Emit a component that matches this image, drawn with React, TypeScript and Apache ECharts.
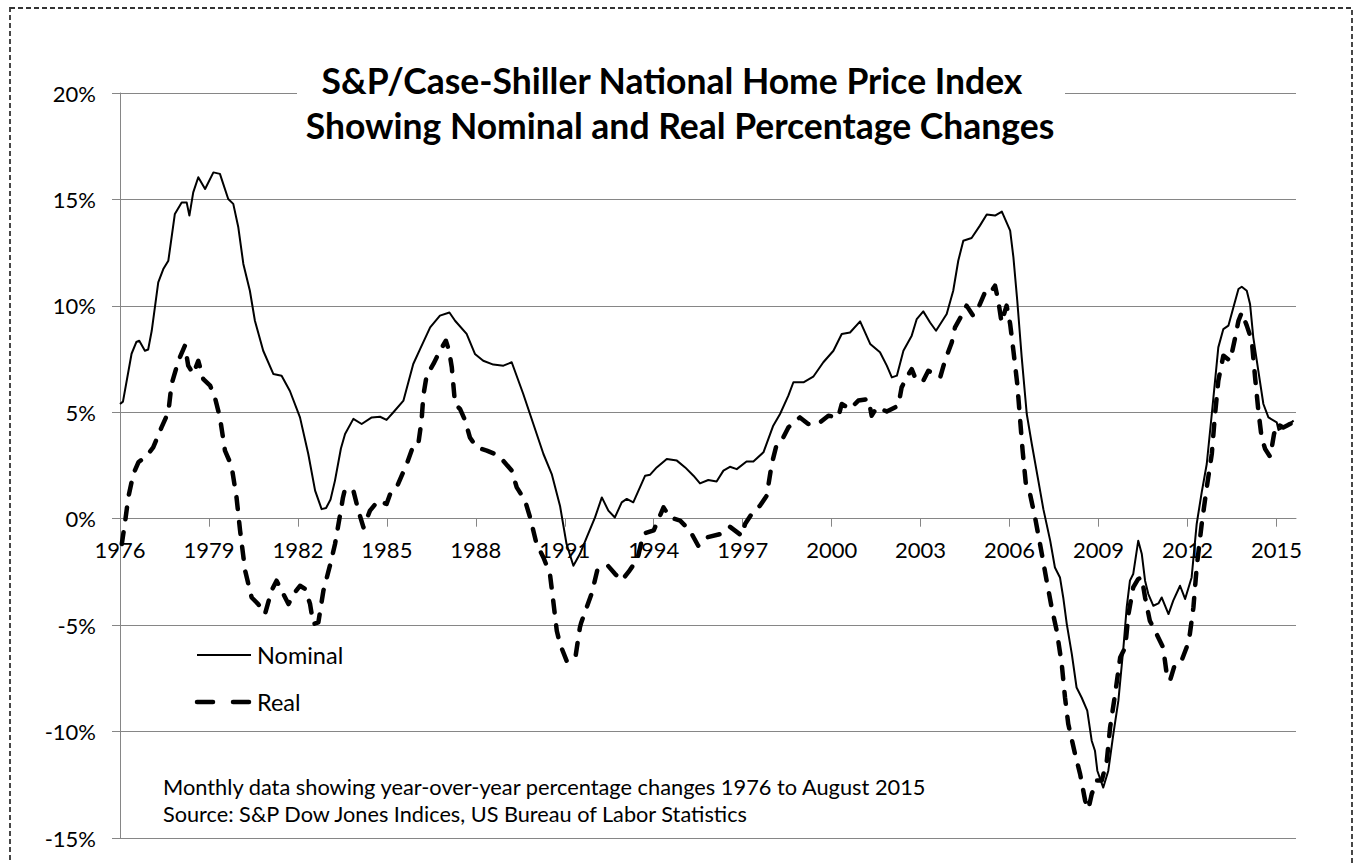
import React, { useEffect, useRef } from "react";
import * as echarts from "echarts";

// Tick labels (years) of the horizontal axis
const YEAR_TICKS = [1976, 1979, 1982, 1985, 1988, 1991, 1994, 1997, 2000, 2003, 2006, 2009, 2012, 2015];

// Year-over-year % change: [decimal year, percent]
const NOMINAL: [number, number][] = [
  [1976.0, 5.39], [1976.1, 5.5], [1976.39, 7.75], [1976.55, 8.3], [1976.65, 8.36], [1976.84, 7.89],
  [1976.95, 7.95], [1977.07, 8.83], [1977.29, 11.1], [1977.46, 11.73], [1977.63, 12.12], [1977.85, 14.32],
  [1978.08, 14.86], [1978.25, 14.85], [1978.34, 14.24], [1978.47, 15.33], [1978.64, 16.04], [1978.87, 15.49],
  [1979.15, 16.27], [1979.37, 16.2], [1979.65, 15.02], [1979.82, 14.79], [1979.99, 13.69], [1980.16, 11.97],
  [1980.38, 10.71], [1980.55, 9.3], [1980.83, 7.89], [1981.17, 6.8], [1981.45, 6.72], [1981.73, 6.0],
  [1982.07, 4.76], [1982.35, 3.04], [1982.58, 1.32], [1982.8, 0.45], [1982.95, 0.5], [1983.1, 0.9],
  [1983.25, 1.79], [1983.45, 3.3], [1983.59, 3.98], [1983.87, 4.69], [1984.15, 4.45], [1984.49, 4.76],
  [1984.77, 4.79], [1984.99, 4.64], [1985.22, 5.0], [1985.56, 5.55], [1985.89, 7.27], [1986.12, 7.97],
  [1986.46, 8.99], [1986.79, 9.54], [1987.11, 9.69], [1987.3, 9.3], [1987.69, 8.68], [1987.97, 7.74],
  [1988.25, 7.42], [1988.59, 7.24], [1988.93, 7.19], [1989.21, 7.35], [1989.6, 5.86], [1989.94, 4.45],
  [1990.28, 3.04], [1990.56, 2.1], [1990.84, 0.6], [1991.06, -1.19], [1991.29, -2.21], [1991.51, -1.66],
  [1991.74, -0.88], [1992.02, 0.06], [1992.25, 1.0], [1992.47, 0.38], [1992.69, 0.06], [1992.92, 0.77],
  [1993.09, 0.93], [1993.31, 0.77], [1993.71, 2.02], [1993.88, 2.07], [1994.1, 2.41], [1994.44, 2.81],
  [1994.78, 2.73], [1995.06, 2.41], [1995.34, 2.02], [1995.56, 1.66], [1995.84, 1.82], [1996.12, 1.75],
  [1996.35, 2.26], [1996.57, 2.44], [1996.8, 2.33], [1997.13, 2.69], [1997.36, 2.69], [1997.7, 3.12],
  [1998.03, 4.37], [1998.26, 4.92], [1998.54, 5.78], [1998.71, 6.41], [1999.05, 6.41], [1999.38, 6.67],
  [1999.72, 7.35], [2000.06, 7.89], [2000.34, 8.68], [2000.62, 8.75], [2000.96, 9.27], [2001.3, 8.21],
  [2001.63, 7.82], [2001.86, 7.19], [2002.03, 6.64], [2002.2, 6.72], [2002.42, 7.89], [2002.7, 8.6],
  [2002.87, 9.38], [2003.09, 9.74], [2003.32, 9.22], [2003.52, 8.83], [2003.88, 9.62], [2004.1, 10.71],
  [2004.27, 12.12], [2004.44, 13.06], [2004.72, 13.19], [2005.0, 13.77], [2005.23, 14.29], [2005.51, 14.24],
  [2005.74, 14.43], [2006.02, 13.53], [2006.13, 12.28], [2006.26, 10.24], [2006.41, 7.58], [2006.58, 4.92],
  [2006.75, 3.51], [2006.97, 1.79], [2007.14, 0.45], [2007.37, -1.03], [2007.53, -2.29], [2007.7, -2.76],
  [2007.81, -3.7], [2007.93, -4.95], [2008.1, -6.36], [2008.26, -7.93], [2008.43, -8.4], [2008.62, -9.02],
  [2008.77, -10.43], [2008.88, -10.9], [2008.96, -11.84], [2009.16, -12.63], [2009.33, -11.84], [2009.5, -10.12],
  [2009.67, -8.55], [2009.84, -6.05], [2009.95, -4.17], [2010.06, -2.91], [2010.17, -2.6], [2010.34, -1.03],
  [2010.46, -1.66], [2010.57, -2.91], [2010.68, -3.54], [2010.85, -4.09], [2011.02, -3.98], [2011.13, -3.7],
  [2011.36, -4.48], [2011.52, -3.85], [2011.75, -3.15], [2011.92, -3.77], [2012.14, -2.76], [2012.31, -0.25],
  [2012.48, 1.24], [2012.65, 2.57], [2012.82, 4.92], [2012.93, 6.48], [2013.04, 8.05], [2013.21, 8.91],
  [2013.38, 9.07], [2013.55, 9.93], [2013.72, 10.79], [2013.83, 10.9], [2014.0, 10.71], [2014.11, 10.09],
  [2014.22, 8.52], [2014.39, 6.95], [2014.56, 5.39], [2014.73, 4.76], [2015.01, 4.53], [2015.07, 4.17],
  [2015.35, 4.37], [2015.58, 4.61],
];

const REAL: [number, number][] = [
  [1976.06, -1.19], [1976.17, -0.17], [1976.28, 1.0], [1976.45, 2.1], [1976.62, 2.65], [1976.9, 2.96],
  [1977.12, 3.35], [1977.4, 4.29], [1977.63, 5.0], [1977.74, 6.33], [1977.97, 7.42], [1978.19, 8.13],
  [1978.3, 7.19], [1978.47, 6.8], [1978.64, 7.42], [1978.81, 6.56], [1979.04, 6.25], [1979.2, 5.7],
  [1979.37, 4.76], [1979.54, 3.2], [1979.76, 2.49], [1979.93, 1.0], [1980.05, -0.56], [1980.22, -2.44],
  [1980.44, -3.7], [1980.66, -4.01], [1980.89, -4.48], [1981.11, -3.38], [1981.28, -2.91], [1981.45, -3.38],
  [1981.68, -4.01], [1981.9, -3.46], [1982.07, -3.15], [1982.24, -3.3], [1982.41, -4.01], [1982.52, -4.95],
  [1982.69, -4.87], [1982.86, -3.38], [1983.08, -2.2], [1983.25, -1.2], [1983.4, 0.0], [1983.52, 1.0],
  [1983.59, 1.4], [1983.87, 1.32], [1984.04, 0.38], [1984.21, -0.41], [1984.43, 0.38], [1984.71, 0.85],
  [1984.99, 0.69], [1985.11, 1.16], [1985.33, 1.47], [1985.67, 2.57], [1985.89, 3.43], [1986.06, 3.51],
  [1986.17, 4.61], [1986.23, 5.78], [1986.34, 6.72], [1986.57, 7.27], [1986.79, 7.89], [1986.99, 8.36],
  [1987.1, 7.89], [1987.19, 7.11], [1987.3, 5.39], [1987.47, 5.15], [1987.64, 4.61], [1987.8, 3.82],
  [1988.03, 3.35], [1988.37, 3.2], [1988.65, 3.04], [1988.87, 2.81], [1989.21, 2.26], [1989.38, 1.47],
  [1989.66, 0.85], [1989.83, 0.06], [1990.05, -1.19], [1990.28, -1.82], [1990.5, -2.6], [1990.61, -3.85],
  [1990.73, -5.26], [1990.84, -5.89], [1991.06, -6.67], [1991.35, -6.59], [1991.51, -5.11], [1991.55, -4.9],
  [1991.91, -3.5], [1992.1, -2.4], [1992.45, -2.2], [1992.7, -2.6], [1992.92, -2.9], [1993.15, -2.5],
  [1993.45, -1.9], [1993.65, -0.7], [1994.0, -0.55], [1994.33, 0.53], [1994.55, 0.06], [1994.89, -0.09],
  [1995.22, -0.56], [1995.5, -1.27], [1995.79, -0.88], [1996.24, -0.72], [1996.57, -0.38], [1996.97, -0.8],
  [1997.08, -0.25], [1997.3, 0.22], [1997.58, 0.61], [1997.81, 1.08], [1997.98, 2.57], [1998.15, 3.51],
  [1998.37, 3.82], [1998.54, 4.29], [1998.93, 4.76], [1999.21, 4.45], [1999.61, 4.53], [1999.89, 4.84],
  [2000.22, 4.76], [2000.34, 5.39], [2000.62, 5.15], [2000.9, 5.55], [2001.24, 5.62], [2001.35, 4.84],
  [2001.52, 5.23], [2001.86, 5.04], [2002.25, 5.31], [2002.36, 6.17], [2002.53, 6.64], [2002.7, 7.03],
  [2002.85, 6.5], [2003.09, 6.48], [2003.26, 6.95], [2003.66, 6.64], [2003.82, 7.42], [2004.05, 8.28],
  [2004.16, 8.99], [2004.38, 9.54], [2004.55, 10.01], [2004.77, 9.54], [2004.98, 10.01], [2005.17, 10.63],
  [2005.33, 10.56], [2005.51, 10.95], [2005.62, 10.24], [2005.73, 9.22], [2005.9, 10.01], [2006.02, 9.15],
  [2006.13, 7.89], [2006.26, 6.33], [2006.35, 4.76], [2006.44, 3.2], [2006.55, 1.63], [2006.69, 1.16],
  [2006.86, 0.06], [2007.09, -1.66], [2007.25, -2.91], [2007.42, -4.17], [2007.59, -5.26], [2007.76, -6.83],
  [2007.87, -8.4], [2007.98, -9.65], [2008.21, -11.06], [2008.38, -12.0], [2008.55, -13.25], [2008.66, -13.64],
  [2008.77, -12.94], [2008.94, -12.3], [2009.11, -12.3], [2009.28, -11.37], [2009.39, -9.81], [2009.56, -8.24],
  [2009.73, -6.52], [2009.9, -6.05], [2010.01, -4.48], [2010.17, -3.23], [2010.34, -2.83], [2010.46, -2.76],
  [2010.57, -3.7], [2010.73, -4.79], [2010.96, -5.42], [2011.18, -6.05], [2011.3, -7.3], [2011.41, -7.61],
  [2011.58, -6.83], [2011.8, -6.67], [2011.97, -6.05], [2012.08, -5.42], [2012.2, -4.17], [2012.31, -2.29],
  [2012.48, -0.25], [2012.65, 1.47], [2012.82, 3.04], [2012.93, 4.92], [2013.04, 6.48], [2013.21, 7.66],
  [2013.44, 7.42], [2013.61, 8.52], [2013.72, 9.3], [2013.83, 9.69], [2014.0, 9.07], [2014.17, 8.36],
  [2014.28, 6.64], [2014.39, 5.08], [2014.5, 3.82], [2014.62, 3.27], [2014.79, 2.91], [2014.92, 3.98],
  [2015.01, 4.45], [2015.23, 4.29], [2015.41, 4.42], [2015.58, 4.53],
];

const TITLE_LINES = [
  "S&P/Case-Shiller National Home Price Index",
  "Showing Nominal and Real Percentage Changes",
];
const NOTE_LINES = [
  "Monthly data showing year-over-year percentage changes 1976 to August 2015",
  "Source: S&P Dow Jones Indices, US Bureau of Labor Statistics",
];
const SERIES_NAMES = ["Nominal", "Real"];

const FONT = "Lato, 'Open Sans', sans-serif";
const GRID_GRAY = "#868686";

export default function App() {
  const ref = useRef<HTMLDivElement>(null);

  useEffect(() => {
    document.body.style.margin = "0";
    if (!ref.current) return;
    const chart = echarts.init(ref.current, null, { renderer: "svg" });
    chart.setOption({
      animation: false,
      backgroundColor: "#ffffff",
      textStyle: { fontFamily: FONT },
      grid: { left: 120, right: 58, top: 93, bottom: 25, containLabel: false },
      xAxis: {
        type: "value",
        min: 1976,
        max: 2015.66,
        position: "bottom",
        // the horizontal axis sits on the 0% line (15 points above the bottom of a 35-point range)
        offset: -319.3,
        axisLine: { show: true, onZero: false, lineStyle: { color: GRID_GRAY, width: 1 } },
        axisTick: { show: true, length: 8, customValues: YEAR_TICKS, lineStyle: { color: GRID_GRAY } },
        axisLabel: {
          customValues: YEAR_TICKS,
          formatter: (v: number) => String(v),
          fontSize: 22,
          color: "#000",
          margin: 20,
          fontFamily: FONT,
        },
        splitLine: { show: false },
      },
      yAxis: {
        type: "value",
        min: -15,
        max: 20,
        interval: 5,
        axisLine: { show: true, onZero: false, lineStyle: { color: GRID_GRAY, width: 1 } },
        axisTick: { show: true, length: 8, lineStyle: { color: GRID_GRAY } },
        axisLabel: {
          formatter: "{value}%",
          fontSize: 22,
          color: "#000",
          margin: 24,
          fontFamily: FONT,
        },
        splitLine: { show: true, lineStyle: { color: GRID_GRAY, width: 1 } },
      },
      series: [
        {
          name: SERIES_NAMES[0],
          type: "line",
          data: NOMINAL,
          symbol: "none",
          lineStyle: { color: "#000", width: 2, join: "round" },
          z: 3,
        },
        {
          name: SERIES_NAMES[1],
          type: "line",
          data: REAL,
          symbol: "none",
          lineStyle: { color: "#000", width: 4.5, type: [12, 13], cap: "round", join: "round" },
          z: 4,
        },
      ],
      graphic: [
        {
          type: "rect",
          silent: true,
          z: 50,
          shape: { x: 297, y: 58, width: 768, height: 95 },
          style: { fill: "#ffffff" },
        },
        {
          type: "text",
          z: 51,
          x: 672,
          y: 80,
          style: {
            text: TITLE_LINES[0],
            fontFamily: FONT,
            fontWeight: "bold",
            fontSize: 35.5,
            fill: "#000",
            align: "center",
            verticalAlign: "middle",
          },
        },
        {
          type: "text",
          z: 51,
          x: 680,
          y: 125,
          style: {
            text: TITLE_LINES[1],
            fontFamily: FONT,
            fontWeight: "bold",
            fontSize: 35.5,
            fill: "#000",
            align: "center",
            verticalAlign: "middle",
          },
        },
        {
          type: "line",
          z: 51,
          shape: { x1: 197, y1: 655, x2: 251, y2: 655 },
          style: { stroke: "#000", lineWidth: 2 },
        },
        {
          type: "line",
          z: 51,
          shape: { x1: 197, y1: 702, x2: 213, y2: 702 },
          style: { stroke: "#000", lineWidth: 4.5, lineCap: "round" },
        },
        {
          type: "line",
          z: 51,
          shape: { x1: 233, y1: 702, x2: 249, y2: 702 },
          style: { stroke: "#000", lineWidth: 4.5, lineCap: "round" },
        },
        {
          type: "text",
          z: 51,
          x: 257,
          y: 655,
          style: { text: SERIES_NAMES[0], fontFamily: FONT, fontSize: 23.5, fill: "#000", align: "left", verticalAlign: "middle" },
        },
        {
          type: "text",
          z: 51,
          x: 257,
          y: 702,
          style: { text: SERIES_NAMES[1], fontFamily: FONT, fontSize: 23.5, fill: "#000", align: "left", verticalAlign: "middle" },
        },
        {
          type: "text",
          z: 51,
          x: 163,
          y: 786,
          style: { text: NOTE_LINES[0], fontFamily: FONT, fontSize: 21.8, fill: "#000", align: "left", verticalAlign: "middle" },
        },
        {
          type: "text",
          z: 51,
          x: 163,
          y: 814,
          style: { text: NOTE_LINES[1], fontFamily: FONT, fontSize: 21.7, fill: "#000", align: "left", verticalAlign: "middle" },
        },
        {
          type: "rect",
          silent: true,
          z: 60,
          shape: { x: 10, y: 8, width: 1342, height: 900 },
          style: { fill: "none", stroke: "#333333", lineWidth: 1.8, lineDash: [5, 3] },
        },
      ],
    });
    return () => chart.dispose();
  }, []);

  return <div ref={ref} style={{ width: 1354, height: 863 }} />;
}
